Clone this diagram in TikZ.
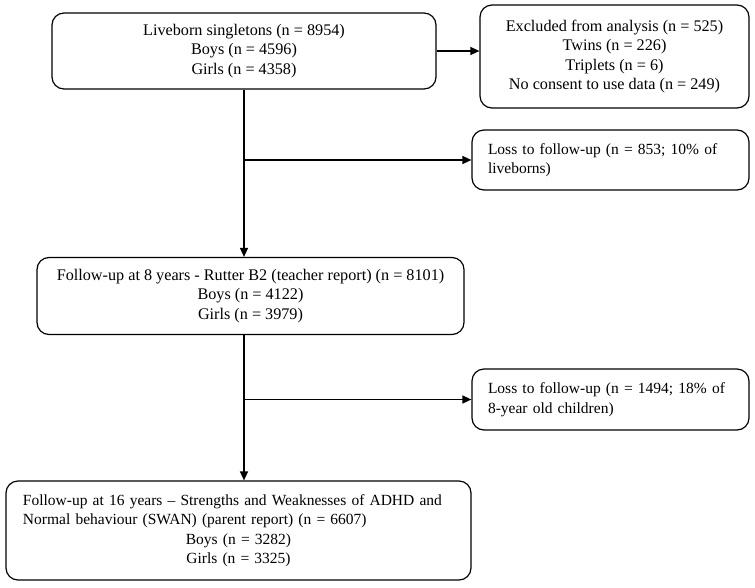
\documentclass[tikz,border=0pt]{standalone}
\usepackage{fontspec}
\setmainfont{Liberation Serif}
\usetikzlibrary{arrows.meta}
\setlength\parindent{0pt}
\begin{document}
\begin{tikzpicture}[x=1pt,y=1pt,
  box/.style={draw,line width=1.2pt,rounded corners=12pt,inner sep=0pt,
    font=\fontsize{15.5}{19.5}\selectfont},
  cbox/.style={box,align=center,font=\fontsize{16.2}{19.5}\selectfont},
  arr/.style={line width=1.4pt,-{Triangle[length=9pt,width=8pt]}}]
\useasboundingbox (0,0) rectangle (755,-587);
\node[cbox,minimum width=384pt,minimum height=76pt] (b1) at (244,-51)
  {Liveborn singletons (n = 8954)\\Boys (n = 4596)\\Girls (n = 4358)};
\node[cbox,minimum width=269pt,minimum height=103pt] (b2) at (614.5,-56.5)
  {Excluded from analysis (n = 525)\\Twins (n = 226)\\Triplets (n = 6)\\No consent to use data (n = 249)};
\node[box,minimum width=277pt,minimum height=60pt,text width=245pt] (b3) at (610.5,-160)
  {Loss to follow-up (n = 853; 10\% of\\liveborns)};
\node[cbox,minimum width=427pt,minimum height=77pt] (b4) at (250.5,-296)
  {Follow-up at 8 years - Rutter B2 (teacher report) (n = 8101)\\Boys (n = 4122)\\Girls (n = 3979)};
\node[box,minimum width=277pt,minimum height=61pt,text width=245pt] (b5) at (610.5,-399.5)
  {Loss to follow-up (n = 1494; 18\% of\\8-year old children)};
\node[box,minimum width=465pt,minimum height=99pt,text width=431pt] (b6) at (238.5,-530.5)
  {\raggedright Follow-up at 16 years – Strengths and Weaknesses of ADHD and\\Normal behaviour (SWAN) (parent report) (n = 6607)\par
   \centering Boys (n = 3282)\\Girls (n = 3325)\par};
\draw[arr] (b1.east) -- (b2.west |- b1.east);
\draw[arr] (b1.south) -- (b4.north -| b1.south);
\draw[arr] (b1.south |- b3.west) -- (b3.west);
\coordinate (t4) at (b4.south -| b1.south);
\draw[arr] (t4) -- (b6.north -| t4);
\draw[arr] (t4 |- b5.west) -- (b5.west);
\end{tikzpicture}
\end{document}
